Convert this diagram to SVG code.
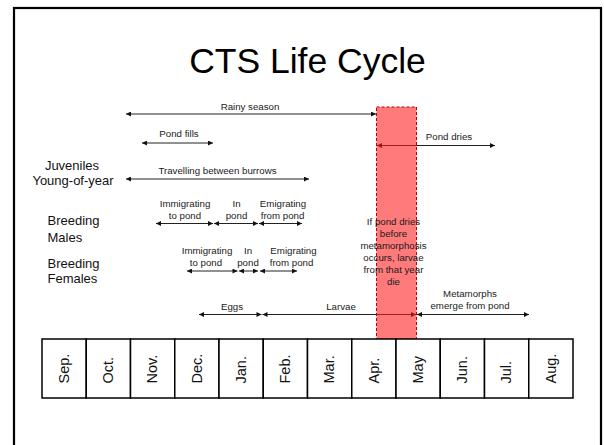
<svg xmlns="http://www.w3.org/2000/svg" width="604" height="445" viewBox="0 0 604 445">
<defs>
<marker id="ah" viewBox="0 0 6 6" refX="6" refY="3" markerWidth="6" markerHeight="5" markerUnits="userSpaceOnUse" orient="auto-start-reverse">
<path d="M0,0 L6,3 L0,6 z" fill="#111"/>
</marker>
<style>
.lbl{font-family:"Liberation Sans",Arial,sans-serif;font-size:9.7px;fill:#1a1a1a;text-anchor:middle}
.big{font-family:"Liberation Sans",Arial,sans-serif;font-size:13px;fill:#111}
.mon{font-family:"Liberation Sans",Arial,sans-serif;font-size:14.5px;fill:#111;text-anchor:start}
.arr{stroke:#222;stroke-width:1;fill:none;marker-start:url(#ah);marker-end:url(#ah)}
.box{fill:#fff;stroke:#000;stroke-width:1.5}
</style>
</defs>
<rect width="604" height="445" fill="#fff"/>
<rect x="14" y="8" width="587" height="460" fill="none" stroke="#000" stroke-width="2.2"/>
<g id="title"><text x="307.5" y="73" style="font-family:'Liberation Sans',Arial,sans-serif;font-size:35.5px;fill:#000;text-anchor:middle">CTS Life Cycle</text></g>

<g id="row-labels">
<text class="big" x="72" y="170" text-anchor="middle">Juveniles</text>
<text class="big" x="73" y="184.5" text-anchor="middle">Young-of-year</text>
<text class="big" x="47.5" y="225">Breeding</text>
<text class="big" x="47.5" y="241.5">Males</text>
<text class="big" x="47.5" y="267.5">Breeding</text>
<text class="big" x="47.5" y="282.5">Females</text>
</g>

<g id="connectors">
<line class="arr" x1="126" y1="114" x2="376" y2="114"/>
<line class="arr" x1="142" y1="143" x2="213" y2="143"/>
<line class="arr" x1="126" y1="179" x2="309" y2="179"/>
<line class="arr" x1="377" y1="145.5" x2="495" y2="145.5"/>
<line class="arr" x1="156" y1="223.5" x2="213" y2="223.5"/>
<line class="arr" x1="214" y1="223.5" x2="258" y2="223.5"/>
<line class="arr" x1="259" y1="223.5" x2="302" y2="223.5"/>
<line class="arr" x1="187" y1="271" x2="237.5" y2="271"/>
<line class="arr" x1="239" y1="271" x2="258" y2="271"/>
<line class="arr" x1="260" y1="271" x2="297" y2="271"/>
<line class="arr" x1="199" y1="314.5" x2="261.5" y2="314.5"/>
<line class="arr" x1="262.5" y1="314.5" x2="416" y2="314.5"/>
<line class="arr" x1="417" y1="314.5" x2="529" y2="314.5"/>
</g>

<g id="pond-dry-zone">
<rect x="376.5" y="107" width="40" height="232" fill="#ff1a1a" fill-opacity="0.58" stroke="#c00000" stroke-width="1" stroke-dasharray="3,2"/>
</g>

<g id="labels">
<text class="lbl" x="250" y="109.5">Rainy season</text>
<text class="lbl" x="179" y="137">Pond fills</text>
<text class="lbl" x="217.5" y="174">Travelling between burrows</text>
<text class="lbl" x="449" y="140">Pond dries</text>
<text class="lbl" x="185" y="207">Immigrating</text>
<text class="lbl" x="185" y="218.5">to pond</text>
<text class="lbl" x="236.5" y="207">In</text>
<text class="lbl" x="236.5" y="218.5">pond</text>
<text class="lbl" x="283" y="207">Emigrating</text>
<text class="lbl" x="282.5" y="218.5">from pond</text>
<text class="lbl" x="207" y="254">Immigrating</text>
<text class="lbl" x="206" y="265.5">to pond</text>
<text class="lbl" x="248" y="254">In</text>
<text class="lbl" x="248" y="265.5">pond</text>
<text class="lbl" x="293.5" y="254">Emigrating</text>
<text class="lbl" x="291.5" y="265.5">from pond</text>
<text class="lbl" x="393.5" y="225">If pond dries</text>
<text class="lbl" x="393.5" y="237">before</text>
<text class="lbl" x="393.5" y="249">metamorphosis</text>
<text class="lbl" x="393.5" y="261">occurs, larvae</text>
<text class="lbl" x="393.5" y="273">from that year</text>
<text class="lbl" x="393.5" y="285">die</text>
<text class="lbl" x="470" y="297">Metamorphs</text>
<text class="lbl" x="470" y="308.5">emerge from pond</text>
<text class="lbl" x="232" y="309.5">Eggs</text>
<text class="lbl" x="341" y="309.5">Larvae</text>
</g>

<g id="timeline">
<g id="m-sep"><rect class="box" x="42" y="339" width="44.25" height="59"/><text class="mon" transform="translate(64.1,383.5) rotate(-90)" y="4.8">Sep.</text></g>
<g id="m-oct"><rect class="box" x="86.25" y="339" width="44.25" height="59"/><text class="mon" transform="translate(108.4,383.5) rotate(-90)" y="4.8">Oct.</text></g>
<g id="m-nov"><rect class="box" x="130.5" y="339" width="44.25" height="59"/><text class="mon" transform="translate(152.6,383.5) rotate(-90)" y="4.8">Nov.</text></g>
<g id="m-dec"><rect class="box" x="174.75" y="339" width="44.25" height="59"/><text class="mon" transform="translate(196.9,383.5) rotate(-90)" y="4.8">Dec.</text></g>
<g id="m-jan"><rect class="box" x="219" y="339" width="44.25" height="59"/><text class="mon" transform="translate(241.1,383.5) rotate(-90)" y="4.8">Jan.</text></g>
<g id="m-feb"><rect class="box" x="263.25" y="339" width="44.25" height="59"/><text class="mon" transform="translate(285.4,383.5) rotate(-90)" y="4.8">Feb.</text></g>
<g id="m-mar"><rect class="box" x="307.5" y="339" width="44.25" height="59"/><text class="mon" transform="translate(329.6,383.5) rotate(-90)" y="4.8">Mar.</text></g>
<g id="m-apr"><rect class="box" x="351.75" y="339" width="44.25" height="59"/><text class="mon" transform="translate(373.9,383.5) rotate(-90)" y="4.8">Apr.</text></g>
<g id="m-may"><rect class="box" x="396" y="339" width="44.25" height="59"/><text class="mon" transform="translate(418.1,383.5) rotate(-90)" y="4.8">May</text></g>
<g id="m-jun"><rect class="box" x="440.25" y="339" width="44.25" height="59"/><text class="mon" transform="translate(462.4,383.5) rotate(-90)" y="4.8">Jun.</text></g>
<g id="m-jul"><rect class="box" x="484.5" y="339" width="44.25" height="59"/><text class="mon" transform="translate(506.6,383.5) rotate(-90)" y="4.8">Jul.</text></g>
<g id="m-aug"><rect class="box" x="528.75" y="339" width="44.25" height="59"/><text class="mon" transform="translate(550.9,383.5) rotate(-90)" y="4.8">Aug.</text></g>
</g>
</svg>
